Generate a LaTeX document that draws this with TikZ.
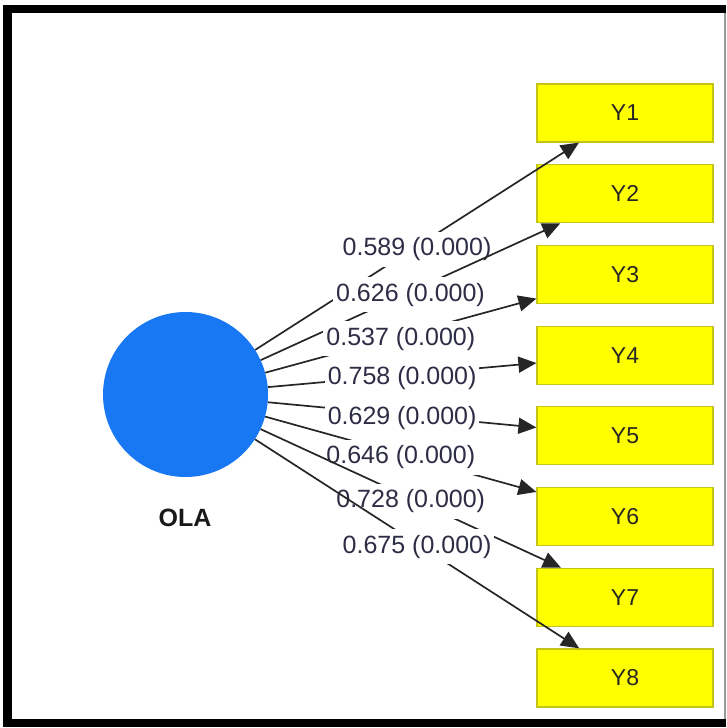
\documentclass[tikz,border=0pt]{standalone}
\usepackage{fontspec}
\setmainfont{Liberation Sans}
\usetikzlibrary{arrows.meta,positioning}
\definecolor{lvblue}{RGB}{24,119,242}
\definecolor{indyellow}{RGB}{255,255,0}
\definecolor{indedge}{RGB}{196,196,24}
\definecolor{lbltext}{RGB}{45,45,70}

\begin{document}
\begin{tikzpicture}[x=1pt, y=-1pt,
   node distance=21.5pt,
   lv/.style={circle, fill=lvblue, minimum size=165pt, inner sep=0pt},
   ind/.style={draw=indedge, line width=1.2pt, fill=indyellow, minimum width=176pt, minimum height=58pt, inner sep=0pt, font=\fontsize{23}{26}\selectfont, text=black!85},
   lbl/.style={fill=white, inner xsep=3pt, inner ysep=6pt, yshift=-3pt, font=\fontsize{25}{28}\selectfont, text=lbltext},
   ar/.style={-{Triangle[length=18pt,width=16pt]}, line width=1.7pt, black!85}
]
\useasboundingbox (0,0) rectangle (726,728);
% frame
\fill[black] (3,5) rectangle (726,13);
\fill[black] (3,5) rectangle (12,727);
\fill[black] (3,719) rectangle (726,727);
\fill[black!40] (724,13) rectangle (725.5,719);

\node[lv] (ola) at (185.5,394.5) {};
\node[font=\fontsize{25}{28}\selectfont\bfseries, text=black!90] (olalbl) at (185,518) {OLA};

\node[ind] (y1) at (625,113) {Y1};
\node[ind, below=of y1] (y2) {Y2};
\node[ind, below=of y2] (y3) {Y3};
\node[ind, below=of y3] (y4) {Y4};
\node[ind, below=of y4] (y5) {Y5};
\node[ind, below=of y5] (y6) {Y6};
\node[ind, below=of y6] (y7) {Y7};
\node[ind, below=of y7] (y8) {Y8};

\draw[ar] (ola) -- node[lbl] {0.589 (0.000)} (y1);
\draw[ar] (ola) -- node[lbl] {0.626 (0.000)} (y2);
\draw[ar] (ola) -- node[lbl] {0.537 (0.000)} (y3);
\draw[ar] (ola) -- node[lbl] {0.758 (0.000)} (y4);
\draw[ar] (ola) -- node[lbl] {0.629 (0.000)} (y5);
\draw[ar] (ola) -- node[lbl] {0.646 (0.000)} (y6);
\draw[ar] (ola) -- node[lbl] {0.728 (0.000)} (y7);
\draw[ar] (ola) -- node[lbl] {0.675 (0.000)} (y8);
\end{tikzpicture}
\end{document}
